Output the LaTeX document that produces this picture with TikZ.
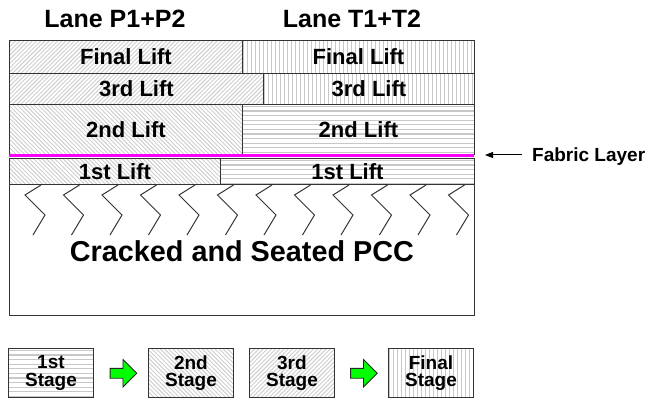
\documentclass[tikz,border=0pt]{standalone}
\usepackage{fontspec}
\setmainfont{Liberation Sans}
\usetikzlibrary{shapes.arrows,arrows.meta,calc}
\definecolor{fabric}{RGB}{255,0,255}
\definecolor{arrowgreen}{RGB}{0,255,0}
\definecolor{hatchgray}{RGB}{208,208,208}
\definecolor{stripegray}{RGB}{200,200,200}
\begin{document}
\begin{tikzpicture}[x=1pt,y=-1pt,
  box/.style={draw=black!80, line width=0.9pt, inner sep=0pt, anchor=north west},
  hl/.style={draw=hatchgray, line width=0.95pt},
  pNE/.style={path picture={\foreach \k in {-60,-55.8,...,480}
      \draw[hl] ([xshift=\k pt]path picture bounding box.south west) -- ++(60pt,60pt);}},
  pNW/.style={path picture={\foreach \k in {-60,-55.8,...,480}
      \draw[hl] ([xshift=\k pt]path picture bounding box.north west) -- ++(60pt,-60pt);}},
  pV/.style={path picture={\foreach \k in {1,5,...,480}
      \draw[hl, line width=1.7pt, draw=stripegray] ([xshift=\k pt]path picture bounding box.south west) -- ++(0pt,60pt);}},
  pH/.style={path picture={\foreach \k in {2,6.6,...,60}
      \draw[hl, line width=1.2pt, draw=stripegray] ([yshift=-\k pt]path picture bounding box.north west) -- ++(480pt,0pt);}},
  lift/.style={box, font=\fontsize{22}{22}\selectfont\bfseries},
  title/.style={anchor=base, inner sep=0pt, font=\fontsize{25}{25}\selectfont\bfseries},
  stagebox/.style={box, minimum width=85pt, minimum height=49pt, align=center,
    font=\fontsize{19}{17.3}\selectfont\bfseries},
  garrow/.style={single arrow, draw=black!85, fill=arrowgreen, line width=0.8pt,
    minimum height=26.6pt, single arrow head extend=8.85pt, inner xsep=0pt, inner ysep=4.5pt},
  chev/.style={draw=black!80, line width=1pt},
]
\fill[white] (0,0) rectangle (647,398);
\useasboundingbox (0,0) rectangle (647,398);

% titles
\node[title] (tp) at (115,27.7) {Lane P1+P2};
\node[title] (tt) at (352,27.7) {Lane T1+T2};

% lifts
\node[lift, pNE, minimum width=233pt, minimum height=33pt] (fl) at (9,40) {Final Lift};
\node[lift, pV,  minimum width=232pt, minimum height=33pt] (fr) at (242,40) {Final Lift};
\node[lift, pNE, minimum width=254pt, minimum height=31pt] (tl) at (9,73) {3rd Lift};
\node[lift, pV,  minimum width=211pt, minimum height=31pt] (tr) at (263,73) {3rd Lift};
\node[lift, pNW, minimum width=233pt, minimum height=50pt] (sl) at (9,104) {2nd Lift};
\node[lift, pH,  minimum width=232pt, minimum height=50pt] (sr) at (242,104) {2nd Lift};
\node[lift, pNW, minimum width=211pt, minimum height=26pt] (ol) at (9,158) {1st Lift};
\node[lift, pH,  minimum width=254pt, minimum height=26pt] (or) at (220,158) {1st Lift};

% fabric layer
\draw[fabric, line width=3pt] (9,155.8) -- (474,155.8);

% PCC
\node[box, fill=white, minimum width=465pt, minimum height=131pt, text depth=0pt,
  font=\fontsize{28.8}{28.8}\selectfont\bfseries] (pcc) at (9,184) {\raisebox{-3pt}{Cracked and Seated PCC}};
\begin{scope}
  \clip (9,184) rectangle (474,315);
  \foreach \i in {0,...,11}
    \draw[chev] ({41+38.5*\i},185) -- ++(-16,10) -- ++(20,20) -- ++(-12,20);
\end{scope}

% fabric label
\node[anchor=base west, inner sep=0pt, font=\fontsize{19}{19}\selectfont\bfseries] (fab) at (532,161) {Fabric Layer};
\coordinate (fabstart) at (522,155);
\coordinate (fabtip) at (485,155);
\draw[line width=1pt, -{Triangle[length=8pt,width=6pt]}] (fabstart) -- (fabtip);

% legend
\node[stagebox, pH]  (s1) at (8,348)   {1st\\Stage};
\node[stagebox, pNW] (s2) at (148,348) {2nd\\Stage};
\node[stagebox, pNE] (s3) at (249,348) {3rd\\Stage};
\node[stagebox, pV]  (s4) at (388,348) {Final\\Stage};
\node[garrow] (a1) at ($(s1.east)!0.5!(s2.west)+(0,0.3)$) {};
\node[garrow] (a2) at ($(s3.east)!0.5!(s4.west)+(0,0.3)$) {};
\end{tikzpicture}
\end{document}
